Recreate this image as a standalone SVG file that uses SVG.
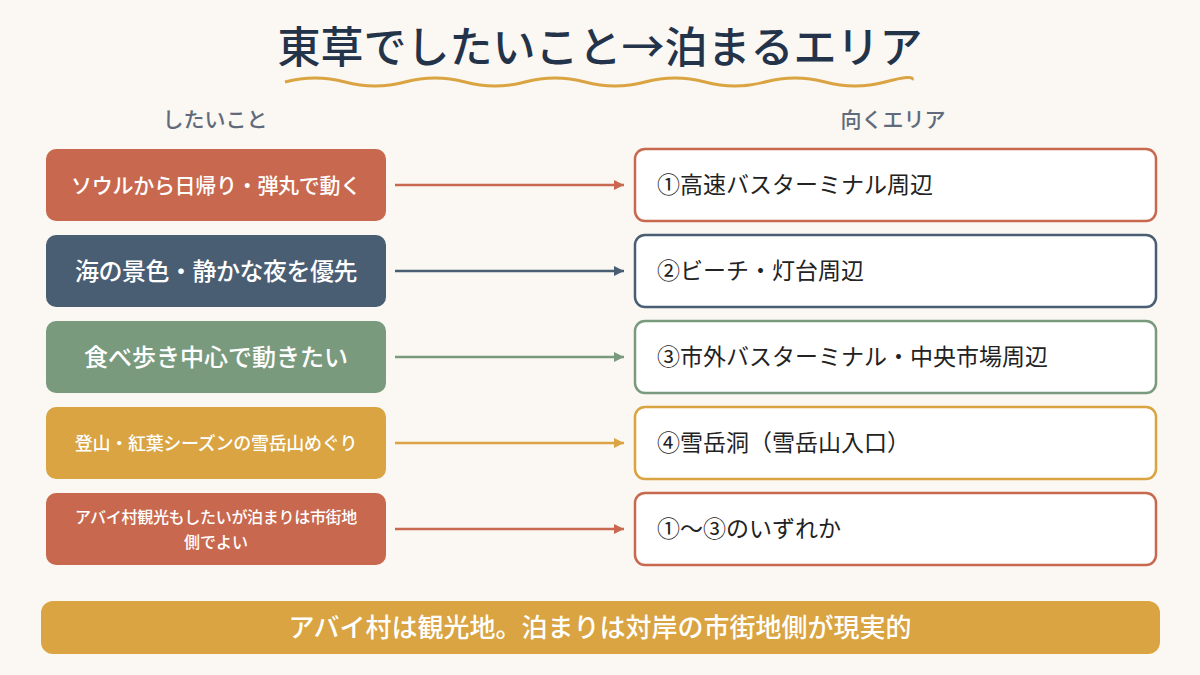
<svg xmlns="http://www.w3.org/2000/svg" width="1200" height="675" viewBox="0 0 1200 675">
<defs>
<style>
text{font-family:"Noto Sans CJK JP","Noto Sans",sans-serif}
.l{fill:#fff;text-anchor:middle;font-weight:500}
.r{fill:#fff;stroke-width:2.5}
.t{fill:#222;font-size:23px}
.h{fill:#5F6B7A;font-size:21px;text-anchor:middle;font-weight:500}
</style>
<marker id="a1" viewBox="0 0 10 10" refX="10" refY="5" markerWidth="10" markerHeight="10" markerUnits="userSpaceOnUse" orient="auto"><path d="M0,0L10,5L0,10z" fill="#C8694F"/></marker>
<marker id="a2" viewBox="0 0 10 10" refX="10" refY="5" markerWidth="10" markerHeight="10" markerUnits="userSpaceOnUse" orient="auto"><path d="M0,0L10,5L0,10z" fill="#4A5E73"/></marker>
<marker id="a3" viewBox="0 0 10 10" refX="10" refY="5" markerWidth="10" markerHeight="10" markerUnits="userSpaceOnUse" orient="auto"><path d="M0,0L10,5L0,10z" fill="#7A9A7E"/></marker>
<marker id="a4" viewBox="0 0 10 10" refX="10" refY="5" markerWidth="10" markerHeight="10" markerUnits="userSpaceOnUse" orient="auto"><path d="M0,0L10,5L0,10z" fill="#D9A441"/></marker>
</defs>
<rect width="1200" height="675" fill="#FBF7F2"/>
<text x="600" y="63" text-anchor="middle" font-size="43" font-weight="500" fill="#23344A">東草でしたいこと→泊まるエリア</text>
<path d="M285,82 Q315,74 345,82 T405,82 T465,82 T525,82 T585,82 T645,82 T705,82 T765,82 T825,82 T885,82 T912,80" fill="none" stroke="#D9A441" stroke-width="3"/>
<text class="h" x="215" y="127">したいこと</text>
<text class="h" x="893" y="127">向くエリア</text>
<g id="n1"><rect x="46" y="149" width="340" height="72" rx="10" fill="#C8694F"/><text class="l" x="216" y="193" font-size="21" letter-spacing="-0.3">ソウルから日帰り・弾丸で動く</text></g>
<g id="n2"><rect x="46" y="235" width="340" height="72" rx="10" fill="#4A5E73"/><text class="l" x="216" y="280" font-size="24" letter-spacing="-0.5">海の景色・静かな夜を優先</text></g>
<g id="n3"><rect x="46" y="321" width="340" height="72" rx="10" fill="#7A9A7E"/><text class="l" x="216" y="366" font-size="24">食べ歩き中心で動きたい</text></g>
<g id="n4"><rect x="46" y="407" width="340" height="72" rx="10" fill="#D9A441"/><text class="l" x="216" y="450" font-size="18" letter-spacing="-0.3">登山・紅葉シーズンの雪岳山めぐり</text></g>
<g id="n5"><rect x="46" y="493" width="340" height="72" rx="10" fill="#C8694F"/><text class="l" x="216" y="523" font-size="16" letter-spacing="-0.3">アバイ村観光もしたいが泊まりは市街地</text><text class="l" x="216" y="548" font-size="16">側でよい</text></g>
<g id="m1"><rect class="r" x="635" y="149" width="521" height="72" rx="10" stroke="#C8694F"/><text class="t" x="657" y="193">①高速バスターミナル周辺</text></g>
<g id="m2"><rect class="r" x="635" y="235" width="521" height="72" rx="10" stroke="#4A5E73"/><text class="t" x="657" y="279">②ビーチ・灯台周辺</text></g>
<g id="m3"><rect class="r" x="635" y="321" width="521" height="72" rx="10" stroke="#7A9A7E"/><text class="t" x="657" y="365">③市外バスターミナル・中央市場周辺</text></g>
<g id="m4"><rect class="r" x="635" y="407" width="521" height="72" rx="10" stroke="#D9A441"/><text class="t" x="657" y="451">④雪岳洞（雪岳山入口）</text></g>
<g id="m5"><rect class="r" x="635" y="493" width="521" height="72" rx="10" stroke="#C8694F"/><text class="t" x="657" y="537">①～③のいずれか</text></g>
<g id="connectors" stroke-width="2.5">
<line x1="395" y1="185" x2="624" y2="185" stroke="#C8694F" marker-end="url(#a1)"/>
<line x1="395" y1="271" x2="624" y2="271" stroke="#4A5E73" marker-end="url(#a2)"/>
<line x1="395" y1="357" x2="624" y2="357" stroke="#7A9A7E" marker-end="url(#a3)"/>
<line x1="395" y1="443" x2="624" y2="443" stroke="#D9A441" marker-end="url(#a4)"/>
<line x1="395" y1="529" x2="624" y2="529" stroke="#C8694F" marker-end="url(#a1)"/>
</g>
<g id="summary"><rect x="41" y="601" width="1119" height="53" rx="12" fill="#D9A441"/><text class="l" x="600" y="637" font-size="26">アバイ村は観光地。泊まりは対岸の市街地側が現実的</text></g>
</svg>
